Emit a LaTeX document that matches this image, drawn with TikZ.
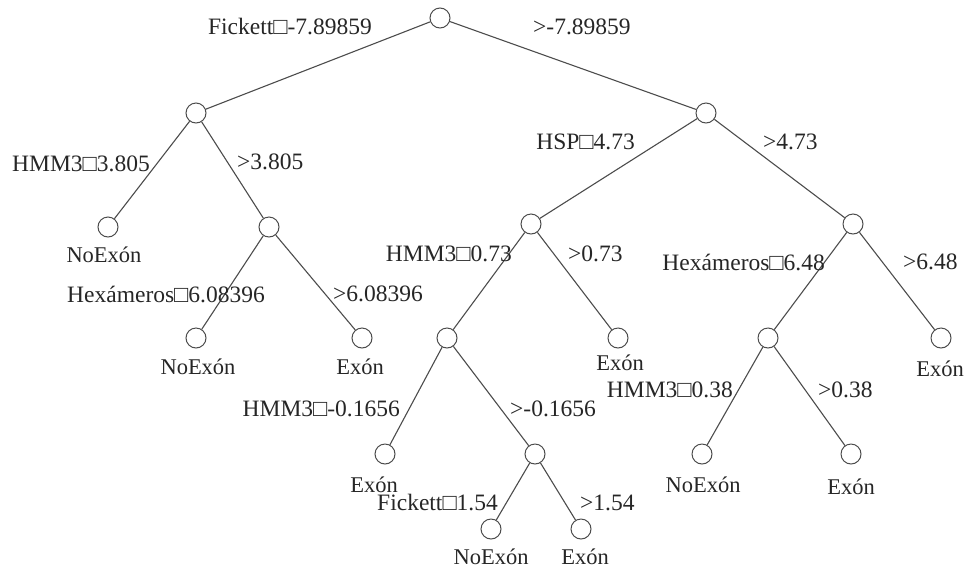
\documentclass[tikz,border=0pt]{standalone}
\usepackage{fontspec}
\setmainfont{Liberation Serif}
\begin{document}
\begin{tikzpicture}[
    x=1pt, y=-1pt,
    every node/.style={font=\fontsize{23.5}{26}\selectfont, inner sep=0pt},
    split/.style={circle, draw=black!70, line width=1pt, minimum size=20pt},
    edge/.style={draw=black!70, line width=1.1pt},
    leaf/.style={text=black!85, font=\fontsize{22.5}{25}\selectfont},
    cond/.style={text=black!85}
]
\useasboundingbox (0,0) rectangle (966,574);
% internal nodes and leaves of the tree
\node[split] (root) at (440,18) {};
\node[split] (l1) at (196,113) {};
\node[split] (r1) at (706,113) {};
\node[split] (l1a) at (108,227) {};
\node[split] (l2) at (269,227) {};
\node[split] (l2a) at (196,338) {};
\node[split] (l2b) at (362,338) {};
\node[split] (r2a) at (531,224) {};
\node[split] (r2b) at (853,224) {};
\node[split] (r3a) at (447,338) {};
\node[split] (r3b) at (618,338) {};
\node[split] (r4a) at (385,454) {};
\node[split] (r4b) at (535,454) {};
\node[split] (r5a) at (491,529) {};
\node[split] (r5b) at (581,529) {};
\node[split] (r3c) at (768,338) {};
\node[split] (r3d) at (941,338) {};
\node[split] (r4c) at (702,454) {};
\node[split] (r4d) at (851,454) {};

% branches
\path[edge] (root) -- (l1);
\path[edge] (root) -- (r1);
\path[edge] (l1) -- (l1a);
\path[edge] (l1) -- (l2);
\path[edge] (l2) -- (l2a);
\path[edge] (l2) -- (l2b);
\path[edge] (r1) -- (r2a);
\path[edge] (r1) -- (r2b);
\path[edge] (r2a) -- (r3a);
\path[edge] (r2a) -- (r3b);
\path[edge] (r3a) -- (r4a);
\path[edge] (r3a) -- (r4b);
\path[edge] (r4b) -- (r5a);
\path[edge] (r4b) -- (r5b);
\path[edge] (r2b) -- (r3c);
\path[edge] (r2b) -- (r3d);
\path[edge] (r3c) -- (r4c);
\path[edge] (r3c) -- (r4d);

% class labels under the leaves
\node[leaf] (t1) at (104,255) {NoExón};
\node[leaf] (t2) at (198,367) {NoExón};
\node[leaf] (t3) at (360,367) {Exón};
\node[leaf] (t4) at (620,363) {Exón};
\node[leaf] (t5) at (374,485) {Exón};
\node[leaf] (t6) at (491,557) {NoExón};
\node[leaf] (t7) at (585,557) {Exón};
\node[leaf] (t8) at (703,485) {NoExón};
\node[leaf] (t9) at (851,487) {Exón};
\node[leaf] (t10) at (940,369) {Exón};

% split conditions
\node[cond, anchor=east] (c1) at (372,27) {Fickett□-7.89859};
\node[cond, anchor=west] (c2) at (533,27) {>-7.89859};
\node[cond, anchor=east] (c3) at (150,164) {HMM3□3.805};
\node[cond, anchor=west] (c4) at (237,162) {>3.805};
\node[cond, anchor=east] (c5) at (635,142) {HSP□4.73};
\node[cond, anchor=west] (c6) at (763,142) {>4.73};
\node[cond, anchor=east] (c7) at (512,254) {HMM3□0.73};
\node[cond, anchor=west] (c8) at (568,254) {>0.73};
\node[cond, anchor=east] (c9) at (825,262) {Hexámeros□6.48};
\node[cond, anchor=west] (c10) at (903,262) {>6.48};
\node[cond, anchor=east] (c11) at (265,294) {Hexámeros□6.08396};
\node[cond, anchor=west] (c12) at (333,294) {>6.08396};
\node[cond, anchor=east] (c13) at (400,409) {HMM3□-0.1656};
\node[cond, anchor=west] (c14) at (510,409) {>-0.1656};
\node[cond, anchor=east] (c15) at (733,390) {HMM3□0.38};
\node[cond, anchor=west] (c16) at (818,390) {>0.38};
\node[cond, anchor=east] (c17) at (498,503) {Fickett□1.54};
\node[cond, anchor=west] (c18) at (580,503) {>1.54};
\end{tikzpicture}
\end{document}
